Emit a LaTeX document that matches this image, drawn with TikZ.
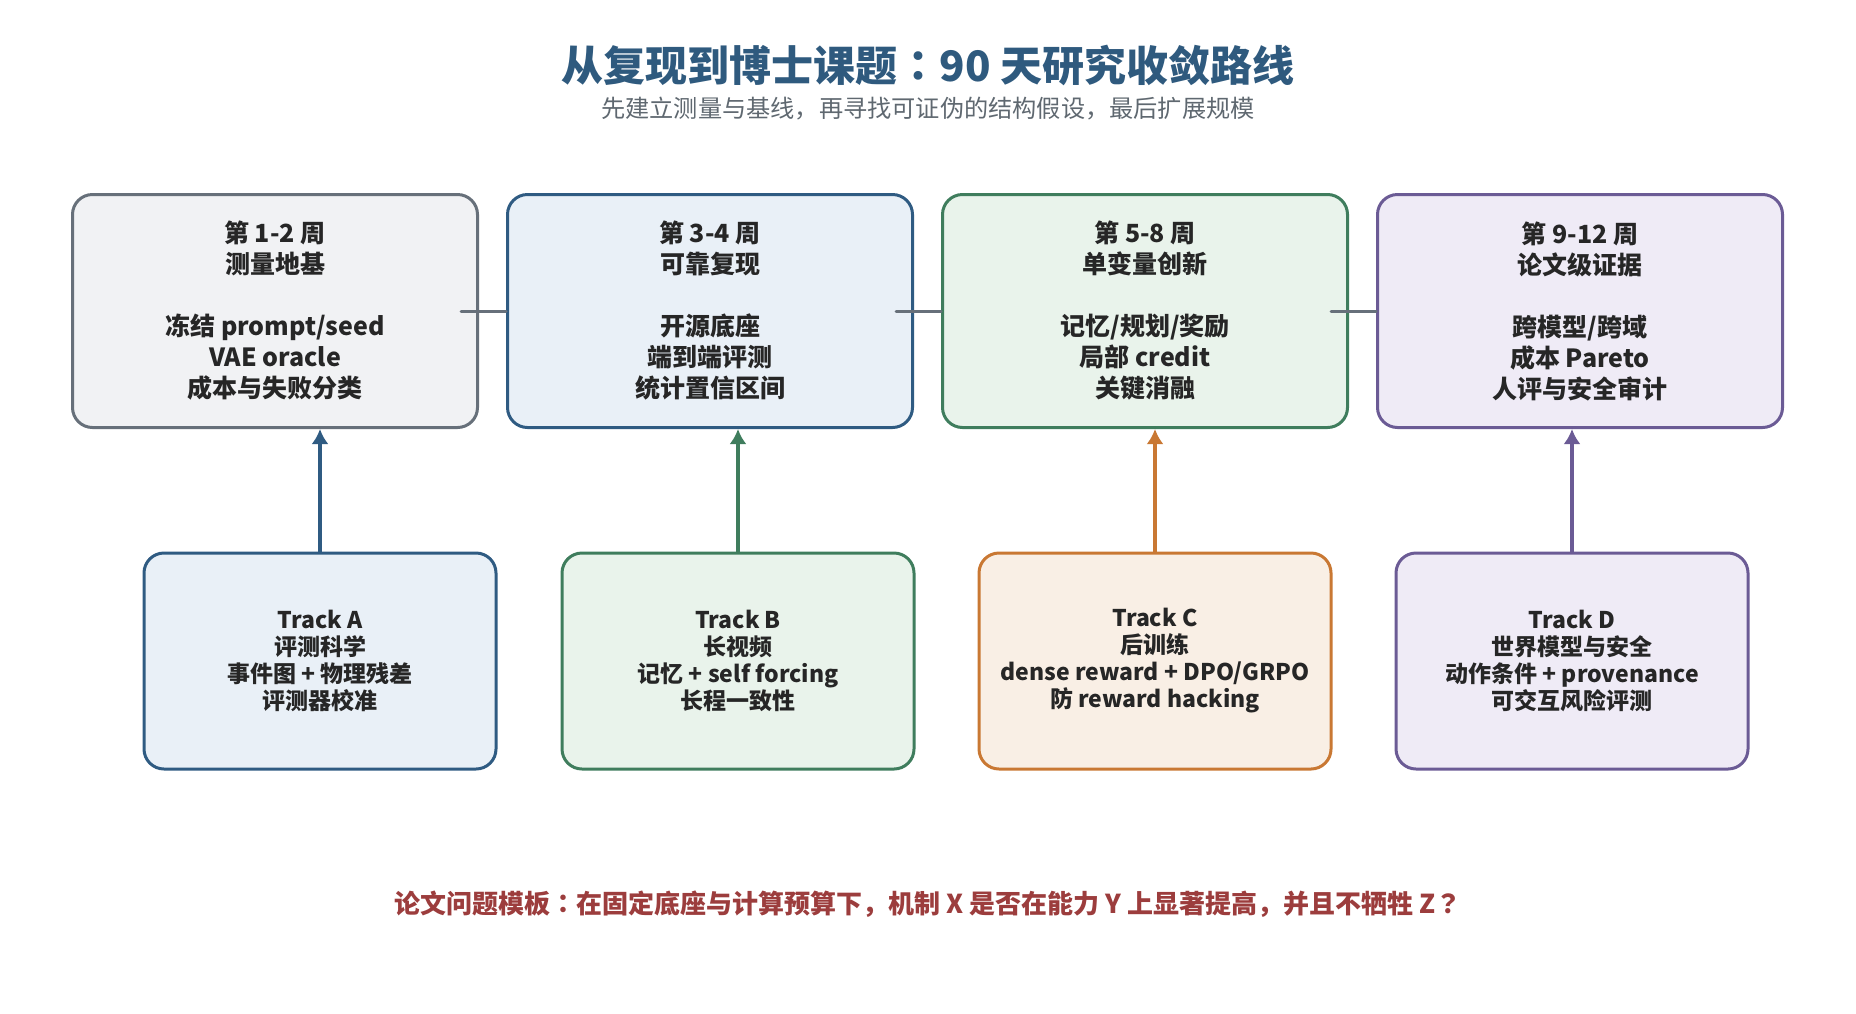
\documentclass[tikz,border=0pt]{standalone}
\usepackage{fontspec}
\setmainfont{Noto Sans CJK SC}
\newfontfamily\jpfont{Noto Sans CJK JP}
\newcommand{\jcolon}{{\jpfont ：}}
\newcommand{\jquery}{{\jpfont ？}}
\usepackage{xcolor}
\usepackage{tikz}
\usetikzlibrary{arrows.meta,positioning}
\definecolor{OGray}{HTML}{67707A}
\definecolor{OGrayL}{HTML}{F1F2F4}
\definecolor{OBlue}{HTML}{2F5B82}
\definecolor{OBlueL}{HTML}{E9F0F7}
\definecolor{OGreen}{HTML}{3F7D5D}
\definecolor{OGreenL}{HTML}{E9F3EB}
\definecolor{OOrange}{HTML}{C97833}
\definecolor{OOrangeL}{HTML}{F9EFE5}
\definecolor{OPurple}{HTML}{6B5B95}
\definecolor{OPurpleL}{HTML}{EFEBF6}
\definecolor{OTitle}{HTML}{2F5A7E}
\definecolor{OSub}{HTML}{5F6870}
\definecolor{ORed}{HTML}{9C3D3D}
\definecolor{OInk}{HTML}{262626}

\begin{document}
\begin{tikzpicture}[
  x=0.5pt,y=-0.5pt,
  node distance=13.5pt,
  wk/.style={draw=#1,fill=#1L,line width=1.5pt,rounded corners=10pt,
    minimum width=202.5pt,minimum height=116.5pt,align=center,text=OInk,
    font=\fontsize{12.5}{15.5}\selectfont\bfseries},
  tr/.style={draw=#1,fill=#1L,line width=1.5pt,rounded corners=10pt,
    minimum width=176pt,minimum height=108pt,align=center,text=OInk,
    font=\fontsize{11.5}{13.5}\selectfont\bfseries},
  link/.style={line width=1.5pt,color=OGray,line cap=round},
  a/.style={-{Latex[length=7.5pt,width=8.5pt]},line width=2pt,color=#1}
]
  \useasboundingbox (0,0) rectangle (1856,1013);
  \node[font=\fontsize{21}{25}\selectfont\bfseries,text=OTitle] (title) at (928,65)
    {从复现到博士课题\jcolon 90 天研究收敛路线};
  \node[font=\fontsize{12.1}{14}\selectfont,text=OSub] (sub) at (928,109)
    {先建立测量与基线，再寻找可证伪的结构假设，最后扩展规模};

  % four stages
  \node[wk=OGray] (s1) at (275,311) {第 1-2 周\\测量地基\\[15.5pt]冻结 prompt/seed\\VAE oracle\\成本与失败分类};
  \node[wk=OBlue,right=of s1] (s2) {第 3-4 周\\可靠复现\\[15.5pt]开源底座\\端到端评测\\统计置信区间};
  \node[wk=OGreen,right=of s2] (s3) {第 5-8 周\\单变量创新\\[15.5pt]记忆/规划/奖励\\局部 credit\\关键消融};
  \node[wk=OPurple,right=of s3] (s4) {第 9-12 周\\论文级证据\\[15.5pt]跨模型/跨域\\成本 Pareto\\人评与安全审计};
  \draw[link] ([xshift=-9pt]s1.east) -- (s2.west);
  \draw[link] ([xshift=-9pt]s2.east) -- (s3.west);
  \draw[link] ([xshift=-9pt]s3.east) -- (s4.west);

  % four tracks
  \node[tr=OBlue] (tA) at (320,661) {Track A\\评测科学\\事件图 + 物理残差\\评测器校准};
  \node[tr=OGreen] (tB) at (738,661) {Track B\\长视频\\记忆 + self forcing\\长程一致性};
  \node[tr=OOrange] (tC) at (1155,661) {Track C\\后训练\\dense reward + DPO/GRPO\\防 reward hacking};
  \node[tr=OPurple] (tD) at (1572,661) {Track D\\世界模型与安全\\动作条件 + provenance\\可交互风险评测};
  \draw[a=OBlue] (tA.north) -- (tA.north |- s1.south);
  \draw[a=OGreen] (tB.north) -- (tB.north |- s2.south);
  \draw[a=OOrange] (tC.north) -- (tC.north |- s3.south);
  \draw[a=OPurple] (tD.north) -- (tD.north |- s4.south);

  \node[font=\fontsize{13}{16}\selectfont\bfseries,text=ORed] (q) at (928,904)
    {论文问题模板\jcolon 在固定底座与计算预算下，机制 X 是否在能力 Y 上显著提高，并且不牺牲 Z\jquery};
\end{tikzpicture}
\end{document}
